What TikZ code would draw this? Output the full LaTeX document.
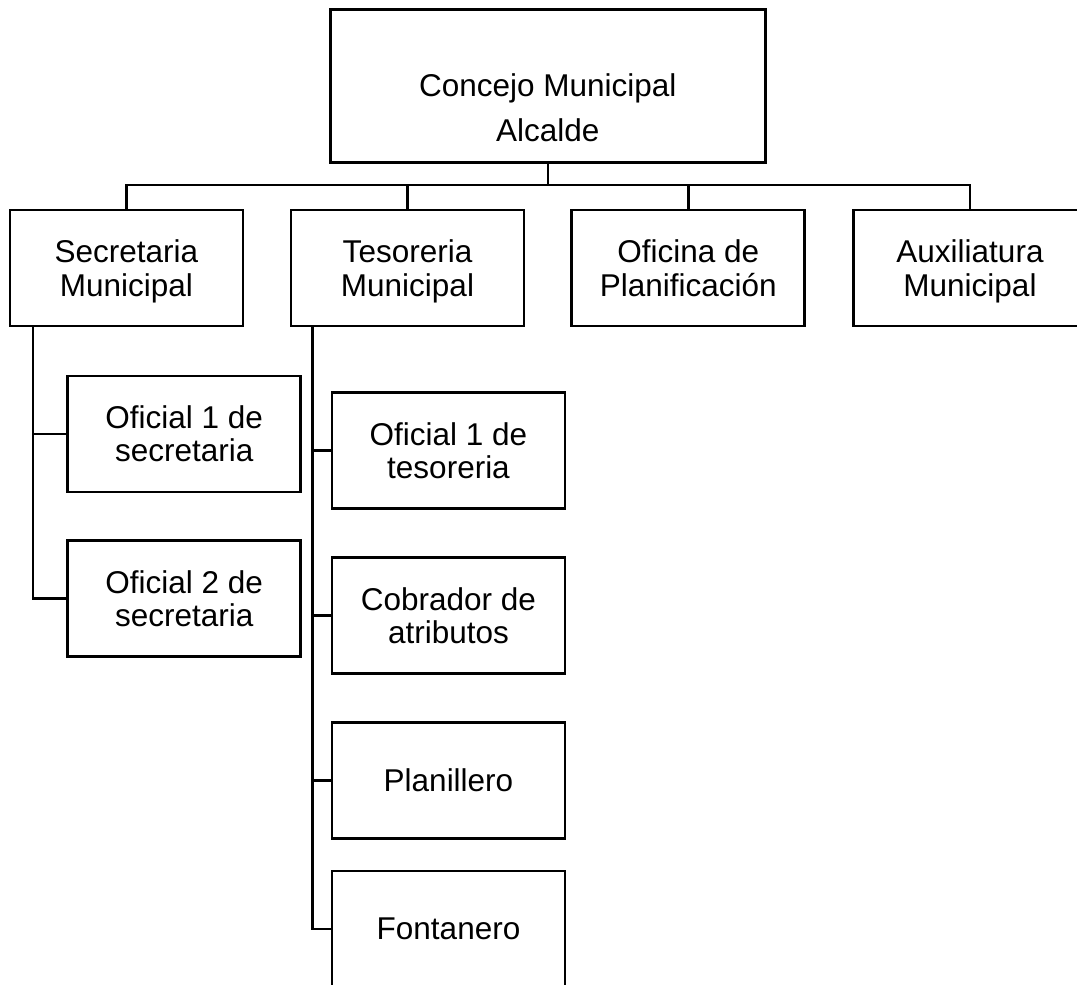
\documentclass[tikz,border=0pt]{standalone}
\usepackage{fontspec}
\setmainfont{Liberation Sans}
\begin{document}
\begin{tikzpicture}[x=0.5pt,y=-0.5pt,
  orgbox/.style={draw=black, line width=1.3pt, fill=white, minimum width=116.5pt, minimum height=58pt,
    inner sep=0pt, align=center, text depth=0pt,
    font=\fontsize{15.75pt}{16.65pt}\selectfont},
  toplbl/.style={inner sep=0pt, align=center, text depth=0pt,
    font=\fontsize{15.75pt}{22.5pt}\selectfont},
  link/.style={draw=black, line width=1.3pt}]
\useasboundingbox (0,0) rectangle (1077,985);
\clip (0,0) rectangle (1077,985);
\fill[white] (0,0) rectangle (1077,985);

% top box
\node[orgbox, minimum width=217.5pt, minimum height=76.5pt] (cm) at (547.8,85.7) {};
\node[toplbl] (cmlbl) at (547.8,107.2) {Concejo Municipal\\Alcalde};

% second level
\node[orgbox] (sec) at (126.3,268) {Secretaria\\Municipal};
\node[orgbox] (tes) at (407.5,268) {Tesoreria\\Municipal};
\node[orgbox] (ofi) at (688.2,268) {Oficina de\\Planificación};
\node[orgbox] (aux) at (970,268) {Auxiliatura\\Municipal};

% secretaria children
\node[orgbox] (os1) at (184.2,433.8) {Oficial 1 de\\secretaria};
\node[orgbox] (os2) at (184.2,598.3) {Oficial 2 de\\secretaria};

% tesoreria children
\node[orgbox] (ot1) at (448.5,450.4) {Oficial 1 de\\tesoreria};
\node[orgbox] (cob) at (448.5,615.4) {Cobrador de\\atributos};
\node[orgbox] (pla) at (448.5,780.5) {Planillero};
\node[orgbox] (fon) at (448.5,929) {Fontanero};

% connectors from top
\coordinate (busy) at (0,185);
\draw[link] (cm.south) -- (cm.south |- busy) -| (sec.north);
\draw[link] (cm.south) -- (cm.south |- busy) -| (tes.north);
\draw[link] (cm.south) -- (cm.south |- busy) -| (ofi.north);
\draw[link] (cm.south) -- (cm.south |- busy) -| (aux.north);

% secretaria branch
\coordinate (secstem) at ([xshift=12.2pt]sec.south west);
\draw[link] (secstem) |- (os1.west);
\draw[link] (secstem) |- (os2.west);

% tesoreria branch
\coordinate (tesstem) at ([xshift=11.5pt]tes.south west);
\draw[link] (tesstem) |- (ot1.west);
\draw[link] (tesstem) |- (cob.west);
\draw[link] (tesstem) |- (pla.west);
\draw[link] (tesstem) |- (fon.west);
\end{tikzpicture}
\end{document}
